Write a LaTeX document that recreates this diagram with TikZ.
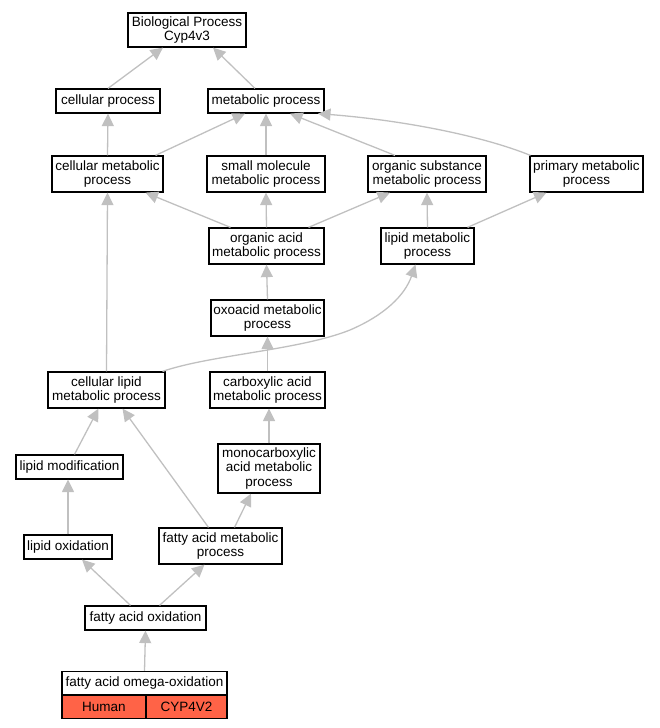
\documentclass[tikz,border=0pt]{standalone}
\usepackage{fontspec}
\setmainfont{Liberation Sans}
\usetikzlibrary{arrows.meta}
\definecolor{edgegray}{HTML}{C0C0C0}
\definecolor{tomatofill}{HTML}{FF6347}
\tikzset{
  box/.style={draw=black, line width=1.2pt, fill=white, inner sep=0pt, align=center,
    font=\fontsize{13.5}{14.5}\selectfont},
  hit/.style={draw=black, line width=1.2pt, fill=tomatofill, inner sep=0pt,
    font=\fontsize{13.5}{14.5}\selectfont, minimum height=23, anchor=north},
  isa/.style={draw=edgegray, line width=1.3pt, -{Triangle[length=12.5pt,width=12pt]}, color=edgegray}
}
\begin{document}
\begin{tikzpicture}[x=1pt,y=-1pt]
\useasboundingbox (0,0) rectangle (659,728);
\node[box, minimum width=118, minimum height=34] (bp) at (187,30) {Biological Process\\Cyp4v3};
\node[box, minimum width=104, minimum height=24] (cp) at (108,101) {cellular process};
\node[box, minimum width=116, minimum height=24] (mp) at (266,101) {metabolic process};
\node[box, minimum width=111, minimum height=36] (cmp) at (107.5,174) {cellular metabolic\\process};
\node[box, minimum width=118, minimum height=36] (smp) at (266,174) {small molecule\\metabolic process};
\node[box, minimum width=118, minimum height=36] (osp) at (427,174) {organic substance\\metabolic process};
\node[box, minimum width=113, minimum height=36] (pmp) at (586.5,174) {primary metabolic\\process};
\node[box, minimum width=115, minimum height=36] (oap) at (266.5,246) {organic acid\\metabolic process};
\node[box, minimum width=93, minimum height=36] (lmp) at (427.5,246) {lipid metabolic\\process};
\node[box, minimum width=113, minimum height=36] (oxo) at (267.5,318) {oxoacid metabolic\\process};
\node[box, minimum width=117, minimum height=36] (clm) at (106.5,390) {cellular lipid\\metabolic process};
\node[box, minimum width=115, minimum height=36] (cam) at (267.5,390) {carboxylic acid\\metabolic process};
\node[box, minimum width=102, minimum height=49] (mcm) at (269,468.5) {monocarboxylic\\acid metabolic\\process};
\node[box, minimum width=107, minimum height=24] (lmod) at (69.5,467) {lipid modification};
\node[box, minimum width=88, minimum height=24] (lox) at (68,547) {lipid oxidation};
\node[box, minimum width=123, minimum height=36] (fam) at (220.5,546) {fatty acid metabolic\\process};
\node[box, minimum width=121, minimum height=24] (fao) at (145.5,618) {fatty acid oxidation};
\node[box, minimum width=165, minimum height=23] (omega) at (144.5,683) {fatty acid omega-oxidation};
\node[hit, minimum width=84] (human) at (104,694.5) {Human};
\node[hit, minimum width=81] (gene) at (186.5,694.5) {CYP4V2};

\draw[isa] (cp.north) -- ([xshift=-24]bp.south);
\draw[isa] ([xshift=-11]mp.north) -- ([xshift=26]bp.south);
\draw[isa] (cmp.north) -- (cp.south);
\draw[isa] ([xshift=48]cmp.north) -- ([xshift=-21]mp.south);
\draw[isa] (smp.north) -- (mp.south);
\draw[isa] ([xshift=-32]osp.north) -- ([xshift=24]mp.south);
\draw[isa] ([xshift=-56]pmp.north) .. controls (480,135) and (400,120) .. ([xshift=52]mp.south);
\draw[isa] ([xshift=-36]oap.north) -- ([xshift=38]cmp.south);
\draw[isa] (oap.north) -- (smp.south);
\draw[isa] ([xshift=42]oap.north) -- ([xshift=-37]osp.south);
\draw[isa] (lmp.north) -- (osp.south);
\draw[isa] ([xshift=40]lmp.north) -- ([xshift=-40]pmp.south);
\draw[isa] (oxo.north) -- (oap.south);
\draw[isa] (clm.north) -- (cmp.south);
\draw[isa] ([xshift=56]clm.north) .. controls (210,355) and (300,350) .. (350,330) .. controls (385,315) and (405,295) .. ([xshift=-12]lmp.south);
\draw[isa] (cam.north) -- (oxo.south);
\draw[isa] (mcm.north) -- ([xshift=1.5]cam.south);
\draw[isa] ([xshift=5]lmod.north) -- ([xshift=-8]clm.south);
\draw[isa] (lox.north) -- ([xshift=-1.5]lmod.south);
\draw[isa] ([xshift=-12]fam.north) -- ([xshift=16]clm.south);
\draw[isa] ([xshift=14]fam.north) -- ([xshift=-18]mcm.south);
\draw[isa] ([xshift=-15]fao.north) -- ([xshift=14]lox.south);
\draw[isa] ([xshift=14]fao.north) -- ([xshift=-16]fam.south);
\draw[isa] (omega.north) -- (fao.south);
\end{tikzpicture}
\end{document}
